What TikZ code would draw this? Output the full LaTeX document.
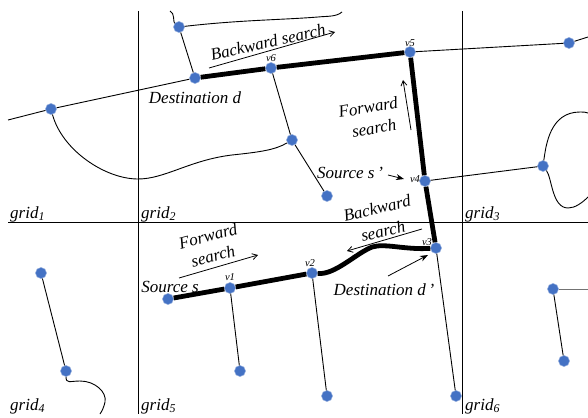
\documentclass[tikz,border=0pt]{standalone}
\usepackage{fontspec}
\setmainfont{Liberation Serif}
\usetikzlibrary{arrows.meta}
\definecolor{dotblue}{HTML}{4472C4}
\tikzset{
  dot/.style={circle,fill=dotblue,draw=dotblue!60!white,line width=0.5pt,inner sep=0pt,minimum size=11pt},
  road/.style={line width=0.9pt,black},
  path3/.style={line width=4.8pt,black,line join=round},
  gridline/.style={line width=1pt,black},
  hint/.style={line width=0.8pt,-{Straight Barb[length=5pt,width=6pt]}},
  pointer/.style={line width=0.8pt,-{Stealth[length=8pt,width=6pt]}},
  lab/.style={font=\fontsize{17}{18}\selectfont\itshape,inner sep=0pt},
  glab/.style={font=\fontsize{17}{18}\selectfont\itshape,inner sep=0pt,anchor=base west},
  vlab/.style={font=\fontsize{10.5}{11}\selectfont\itshape,inner sep=0pt}
}
\begin{document}
\begin{tikzpicture}[x=1pt,y=-1pt]
\useasboundingbox[fill=white] (0,0) rectangle (588,417);
% free ends
\coordinate (gt) at (138,11); \coordinate (gb) at (138,414);
\coordinate (ht) at (462,11); \coordinate (hb) at (462,414);
\coordinate (wl) at (8,222); \coordinate (wr) at (588,222);
\coordinate (e1) at (8,120); \coordinate (e2) at (588,37);
\coordinate (e3) at (170,11); \coordinate (e4) at (342,12);
\coordinate (e5) at (588,113); \coordinate (e6) at (588,197);
\coordinate (e7) at (100,414); \coordinate (e8) at (588,289);
\coordinate (a1s) at (209,68); \coordinate (a1e) at (335,32);
\coordinate (a2s) at (411,130); \coordinate (a2e) at (403,80);
\coordinate (a3s) at (388,175); \coordinate (a3e) at (404,179);
\coordinate (a4s) at (179,278); \coordinate (a4e) at (258,255);
\coordinate (a5s) at (422,229); \coordinate (a5e) at (347,251);
\coordinate (a6s) at (388,276); \coordinate (a6e) at (428,255);
% dots
\node[dot] (d) at (195,78) {};
\node[dot] (v6) at (271,68) {};
\node[dot] (v5) at (410,52) {};
\node[dot] (v4) at (425,181) {};
\node[dot] (v3) at (436,248) {};
\node[dot] (v2) at (312,273) {};
\node[dot] (v1) at (230,288) {};
\node[dot] (s) at (168,299) {};
\node[dot] (top) at (179,27) {};
\node[dot] (mid) at (292,140) {};
\node[dot] (low) at (327,196) {};
\node[dot] (left) at (51,109) {};
\node[dot] (ra) at (569,43) {};
\node[dot] (rb) at (543,166) {};
\node[dot] (ga) at (41,273) {};
\node[dot] (gb4) at (66,371) {};
\node[dot] (v1e) at (240,371) {};
\node[dot] (v2e) at (327,396) {};
\node[dot] (v3e) at (456,396) {};
\node[dot] (rc) at (553,289) {};
\node[dot] (rd) at (564,361) {};
% grid
\draw[gridline] (gt) -- (gb);
\draw[gridline] (ht) -- (hb);
\draw[gridline] (wl) -- (wr);
% thin roads
\draw[road] (e1) -- (left);
\draw[road] (left) -- (d);
\draw[road] (v5) -- (ra);
\draw[road] (ra) -- (e2);
\draw[road] (top) -- (d);
\draw[road] (top) .. controls (173,22) and (175,13) .. (e3);
\draw[road] (top) .. controls (240,20) and (280,20) .. (318,17) .. controls (328,16) and (336,17) .. (e4);
\draw[road] (v6) -- (mid);
\draw[road] (mid) -- (low);
\draw[road] (left) .. controls (62,150) and (105,179) .. (138,179) .. controls (165,179) and (190,160) .. (232,155) .. controls (260,152) and (275,150) .. (mid);
\draw[road] (v4) -- (rb);
\draw[road] (rb) .. controls (546,145) and (550,112) .. (580,112) .. controls (583,112) and (586,112) .. (e5);
\draw[road] (rb) .. controls (552,178) and (552,208) .. (568,208) .. controls (575,208) and (582,203) .. (e6);
\draw[road] (v1) -- (v1e);
\draw[road] (v2) -- (v2e);
\draw[road] (v3) -- (v3e);
\draw[road] (ga) -- (gb4);
\draw[road] (gb4) .. controls (66,384) and (70,381) .. (80,381) .. controls (95,381) and (107,392) .. (105,402) .. controls (104,407) and (102,411) .. (e7);
\draw[road] (rc) -- (rd);
\draw[line width=0.9pt,black!55] (rc) -- (e8);
% search path
\draw[path3] (s) -- (v1);
\draw[path3] (v1) -- (v2);
\draw[path3] (v2) .. controls (335,275) and (355,254) .. (372,247) .. controls (385,243) and (405,250) .. (v3);
\draw[path3] (v3) -- (v4);
\draw[path3] (v4) -- (v5);
\draw[path3] (v5) -- (v6);
\draw[path3] (v6) -- (d);
% arrows
\draw[hint] (a1s) -- (a1e);
\draw[hint] (a2s) -- (a2e);
\draw[hint] (a4s) -- (a4e);
\draw[hint] (a5s) -- (a5e);
\draw[pointer] (a3s) -- (a3e);
\draw[pointer] (a6s) -- (a6e);
% labels
\node[lab,rotate=13] (t1) at (268,42) {Backward search};
\node[lab,rotate=10] (t2) at (368,107) {Forward};
\node[lab,rotate=10] (t3) at (374,128) {search};
\node[lab,rotate=15] (t4) at (208,236) {Forward};
\node[lab,rotate=15] (t5) at (213,256) {search};
\node[lab,rotate=13] (t6) at (377,208) {Backward};
\node[lab,rotate=13] (t7) at (383,231) {search};
\node[lab] (t8) at (195,98) {Destination d};
\node[lab] (t9) at (350,173) {Source s\,’};
\node[lab] (t10) at (170,287) {Source s};
\node[lab] (t11) at (384,290) {Destination d\,’};
\node[vlab] (l5) at (410,43) {v5};
\node[vlab] (l6) at (271,58) {v6};
\node[vlab] (l4) at (415,179) {v4};
\node[vlab] (l3) at (427,242) {v3};
\node[vlab] (l2) at (310,263) {v2};
\node[vlab] (l1) at (230,277) {v1};
\node[glab] (g1) at (10,218) {grid\textsubscript{1}};
\node[glab] (g2) at (141,218) {grid\textsubscript{2}};
\node[glab] (g3) at (465,218) {grid\textsubscript{3}};
\node[glab] (g4) at (10,410) {grid\textsubscript{4}};
\node[glab] (g5) at (141,410) {grid\textsubscript{5}};
\node[glab] (g6) at (465,410) {grid\textsubscript{6}};
\end{tikzpicture}
\end{document}
